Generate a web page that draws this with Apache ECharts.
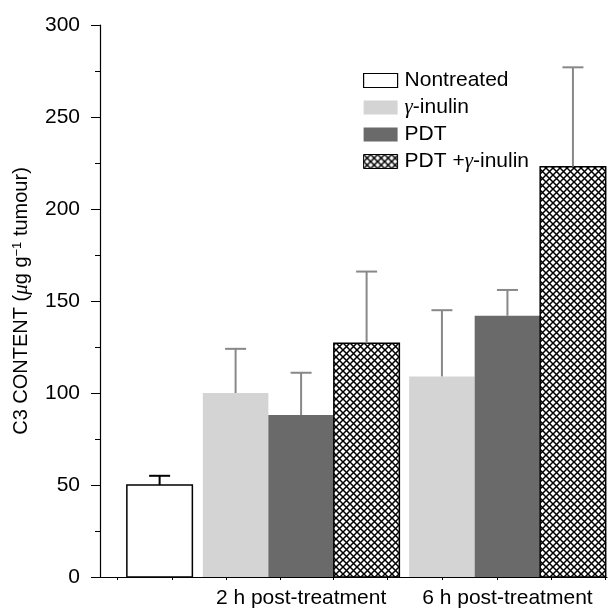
<!DOCTYPE html>
<html>
<head>
<meta charset="utf-8">
<script src="https://cdn.jsdelivr.net/npm/echarts@6/dist/echarts.min.js"></script>
<style>html,body{margin:0;padding:0;background:#fff}#chart{width:609px;height:609px}</style>
</head>
<body>
<div id="chart"></div>
<script>
var groups = ['', '2 h post-treatment', '6 h post-treatment'];
var treatments = ['Nontreated', 'γ-inulin', 'PDT', 'PDT +γ-inulin'];
var nontreatedMean = [50, null, null];
var nontreatedErr = [5, null, null];
var inulinMean = [null, 100, 109];
var inulinErr = [null, 24, 36];
var pdtMean = [null, 88, 142];
var pdtErr = [null, 23, 14];
var comboMean = [null, 127, 223];
var comboErr = [null, 39, 54];

// layout on the x axis, counted in bar widths
var groupStart = [0.41, 1.57, 4.72];
var groupSize = [1, 3, 3];
var firstInGroup = [0, 1, 1];
var xTicks = [0.26, 1.10, 1.92, 2.75, 3.56, 4.38, 5.22, 6.06, 6.89, 7.71];
var groupCenters = groupStart.map(function (s, g) { return s + groupSize[g] / 2; });

var font = 'Liberation Sans, Arial, sans-serif';

function hatch() {
    var c = document.createElement('canvas');
    c.width = 7; c.height = 7;
    var g = c.getContext('2d');
    g.fillStyle = '#fff';
    g.fillRect(0, 0, 7, 7);
    g.strokeStyle = '#000';
    g.lineWidth = 1.5;
    g.beginPath();
    g.moveTo(-1, -1); g.lineTo(8, 8);
    g.moveTo(8, -1); g.lineTo(-1, 8);
    g.stroke();
    return c;
}
var crossHatch = { image: hatch(), repeat: 'repeat' };

function barSeries(k, means, errs, fill, stroke, errColor) {
    var data = [];
    means.forEach(function (v, g) {
        if (v != null) data.push([g, v, errs[g]]);
    });
    return {
        type: 'custom',
        name: treatments[k],
        itemStyle: { color: typeof fill === 'string' ? fill : '#fff' },
        data: data,
        renderItem: function (params, api) {
            var g = api.value(0), v = api.value(1), e = api.value(2);
            var left = groupStart[g] + (k - firstInGroup[g]);
            var p0 = api.coord([left, 0]);
            var p1 = api.coord([left + 1, v]);
            var top = api.coord([left + 0.5, v + e]);
            return {
                type: 'group',
                children: [
                    {
                        type: 'rect',
                        shape: { x: p0[0], y: p1[1], width: p1[0] - p0[0], height: p0[1] - p1[1] },
                        style: { fill: fill, stroke: stroke, lineWidth: 1.5 }
                    },
                    {
                        type: 'line',
                        shape: { x1: top[0], y1: p1[1], x2: top[0], y2: top[1] },
                        style: { stroke: errColor, lineWidth: 2 }
                    },
                    {
                        type: 'line',
                        shape: { x1: top[0] - 10.5, y1: top[1], x2: top[0] + 10.5, y2: top[1] },
                        style: { stroke: errColor, lineWidth: 2 }
                    }
                ]
            };
        }
    };
}

var legendRich = {
    g: { fontFamily: 'Liberation Serif, serif', fontStyle: 'italic', fontSize: 21, color: '#000' }
};

var myChart = echarts.init(document.getElementById('chart'));
myChart.setOption({
    animation: false,
    backgroundColor: '#fff',
    grid: { left: 100, right: 2, top: 25, bottom: 32 },
    legend: {
        left: 358,
        top: 65,
        orient: 'vertical',
        icon: 'rect',
        itemWidth: 34,
        itemHeight: 14,
        itemGap: 6,
        textStyle: { fontFamily: font, fontSize: 21, color: '#000', padding: [0, 0, 0, 2], rich: legendRich },
        formatter: function (name) {
            return name.replace('γ', '{g|γ}');
        },
        data: [
            { name: treatments[0], itemStyle: { color: '#fff', borderColor: '#000', borderWidth: 1.2 } },
            { name: treatments[1], itemStyle: { color: '#d4d4d4', borderWidth: 0 } },
            { name: treatments[2], itemStyle: { color: '#6a6a6a', borderWidth: 0 } },
            { name: treatments[3], itemStyle: { color: crossHatch, borderColor: '#000', borderWidth: 1 } }
        ]
    },
    xAxis: {
        type: 'value',
        min: 0,
        max: 7.74,
        splitLine: { show: false },
        axisLine: { show: true, lineStyle: { color: '#000', width: 1.2 } },
        axisTick: { show: true, length: 3, customValues: xTicks, lineStyle: { color: '#000' } },
        axisLabel: {
            customValues: groupCenters.slice(1),
            margin: 11,
            fontFamily: font,
            fontSize: 21,
            color: '#000',
            formatter: function (val) {
                for (var i = 0; i < groupCenters.length; i++) {
                    if (Math.abs(groupCenters[i] - val) < 1e-6) return groups[i];
                }
                return '';
            }
        }
    },
    yAxis: {
        type: 'value',
        min: 0,
        max: 300,
        interval: 50,
        splitLine: { show: false },
        axisLine: { show: true, lineStyle: { color: '#000', width: 1.2 } },
        axisTick: { show: true, length: 9, lineStyle: { color: '#000' } },
        minorTick: { show: true, splitNumber: 2, length: 5, lineStyle: { color: '#000' } },
        axisLabel: { margin: 20, fontFamily: font, fontSize: 21, color: '#000' },
        name: 'C3 CONTENT ({mu|μ}g g{sup|−1} tumour)',
        nameLocation: 'middle',
        nameRotate: 90,
        nameGap: 68,
        nameTextStyle: {
            fontFamily: font,
            fontSize: 20,
            color: '#000',
            rich: {
                mu: { fontFamily: 'Liberation Serif, serif', fontStyle: 'italic', fontSize: 21, color: '#000' },
                sup: { fontSize: 13, verticalAlign: 'top', color: '#000' }
            }
        }
    },
    series: [
        barSeries(0, nontreatedMean, nontreatedErr, '#fff', '#000', '#000'),
        barSeries(1, inulinMean, inulinErr, '#d4d4d4', null, '#888'),
        barSeries(2, pdtMean, pdtErr, '#6a6a6a', null, '#888'),
        barSeries(3, comboMean, comboErr, crossHatch, '#000', '#888')
    ]
});
</script>
</body>
</html>
